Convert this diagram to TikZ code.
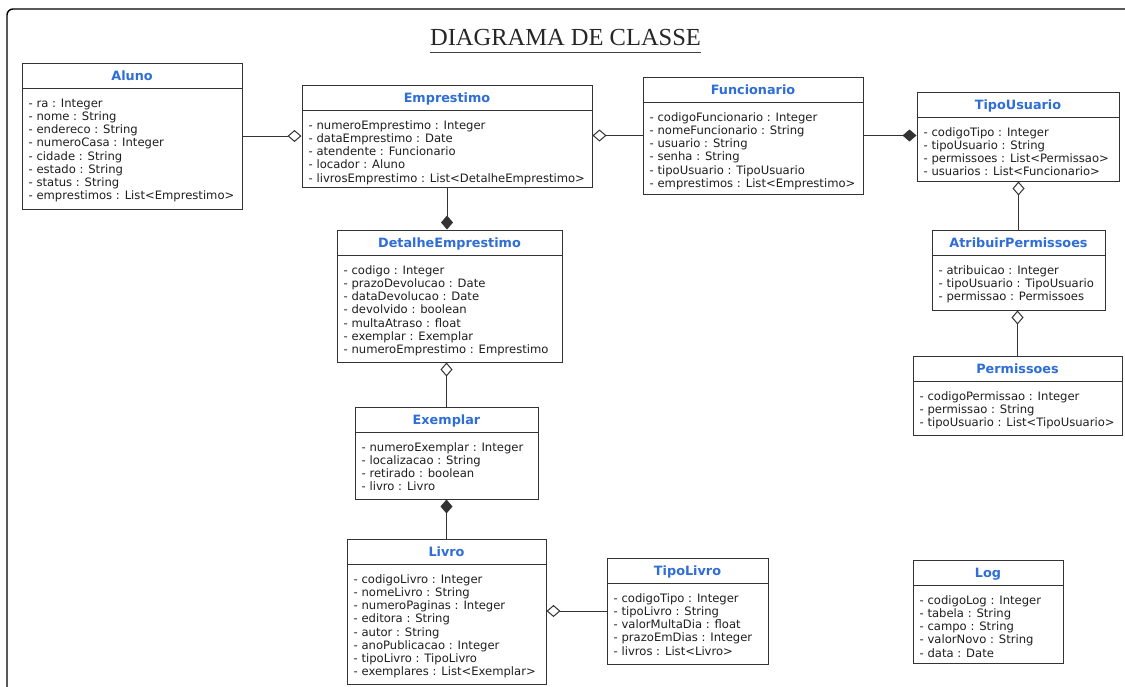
\documentclass[tikz,border=0pt]{standalone}
\usepackage{fontspec}
\newfontfamily\umlfont{DejaVu Sans}
\newfontfamily\headfont{Liberation Serif}
\usetikzlibrary{arrows.meta}
\definecolor{umlblue}{RGB}{46,110,214}
\definecolor{umlline}{RGB}{51,51,51}
\definecolor{umltext}{RGB}{30,30,30}
\tikzset{
 classbox/.style={draw=umlline, line width=1pt, fill=white, inner sep=0pt, rectangle},
 divider/.style={draw=umlline, line width=1pt},
 classtitle/.style={anchor=base, inner sep=0pt, text=umlblue, font=\umlfont\bfseries\fontsize{12.8}{15}\selectfont},
 classattrs/.style={anchor=north west, inner sep=0pt, align=left, text=umltext, font=\umlfont\fontsize{11.6}{13.25}\selectfont},
 conn/.style={draw=umlline, line width=1pt},
 aggr/.style={conn, -{Diamond[open, length=14pt, width=12pt, fill=white]}},
 comp/.style={conn, -{Diamond[length=14pt, width=12pt]}},
 frameline/.style={draw=black, line width=1.4pt, rounded corners=6pt},
}
% #1 name, #2 x, #3 y, #4 width, #5 height, #6 title, #7 attributes
\newcommand\umlclass[7]{%
  \node[classbox, minimum width=#4, minimum height=#5] (#1) at (#2+#4/2, #3+#5/2) {};
  \draw[divider] ([yshift=-25.5pt]#1.north west) -- ([yshift=-25.5pt]#1.north east);
  \node[classtitle] (#1-title) at ([yshift=-18pt]#1.north) {#6};
  \node[classattrs] (#1-attrs) at ([xshift=7pt,yshift=-35.2pt]#1.north west) {\strut#7};
}
\begin{document}
\begin{tikzpicture}[x=1pt, y=-1pt]
\useasboundingbox (0,0) rectangle (1125,686);
\fill[white] (0,0) rectangle (1125,686);
\draw[frameline] (7,720) -- (7,9) -- (1160,9);

\node[inner sep=0pt, anchor=base, font=\headfont\fontsize{24.5}{28}\selectfont, text=black!85] (title) at (565.5,45) {DIAGRAMA DE CLASSE};
\draw[black!75, line width=1.2pt] ([yshift=-7.3pt]title.base west) -- ([yshift=-7.3pt]title.base east);

\umlclass{aluno}{22}{63}{220}{146}{Aluno}{- ra : Integer\\- nome : String\\- endereco : String\\- numeroCasa : Integer\\- cidade : String\\- estado : String\\- status : String\\- emprestimos : List<Emprestimo>}
\umlclass{emprestimo}{302}{85}{290}{102}{Emprestimo}{- numeroEmprestimo : Integer\\- dataEmprestimo : Date\\- atendente : Funcionario\\- locador : Aluno\\- livrosEmprestimo : List<DetalheEmprestimo>}
\umlclass{funcionario}{643}{77}{220}{117}{Funcionario}{- codigoFuncionario : Integer\\- nomeFuncionario : String\\- usuario : String\\- senha : String\\- tipoUsuario : TipoUsuario\\- emprestimos : List<Emprestimo>}
\umlclass{tipousuario}{917}{92}{202}{89}{TipoUsuario}{- codigoTipo : Integer\\- tipoUsuario : String\\- permissoes : List<Permissao>\\- usuarios : List<Funcionario>}
\umlclass{atribuir}{932}{230}{173}{80}{AtribuirPermissoes}{- atribuicao : Integer\\- tipoUsuario : TipoUsuario\\- permissao : Permissoes}
\umlclass{permissoes}{913}{356}{209}{79}{Permissoes}{- codigoPermissao : Integer\\- permissao : String\\- tipoUsuario : List<TipoUsuario>}
\umlclass{detalhe}{337}{230}{225}{132}{DetalheEmprestimo}{- codigo : Integer\\- prazoDevolucao : Date\\- dataDevolucao : Date\\- devolvido : boolean\\- multaAtraso : float\\- exemplar : Exemplar\\- numeroEmprestimo : Emprestimo}
\umlclass{exemplar}{355}{407}{183}{92}{Exemplar}{- numeroExemplar : Integer\\- localizacao : String\\- retirado : boolean\\- livro : Livro}
\umlclass{livro}{347}{539}{199}{145}{Livro}{- codigoLivro : Integer\\- nomeLivro : String\\- numeroPaginas : Integer\\- editora : String\\- autor : String\\- anoPublicacao : Integer\\- tipoLivro : TipoLivro\\- exemplares : List<Exemplar>}
\umlclass{tipolivro}{607}{558}{161}{106}{TipoLivro}{- codigoTipo : Integer\\- tipoLivro : String\\- valorMultaDia : float\\- prazoEmDias : Integer\\- livros : List<Livro>}
\umlclass{log}{913}{560}{150}{103}{Log}{- codigoLog : Integer\\- tabela : String\\- campo : String\\- valorNovo : String\\- data : Date}

% connectors
\draw[aggr] (aluno.east) -- (aluno.east -| emprestimo.west);
\draw[aggr] (funcionario.west) -- (funcionario.west -| emprestimo.east);
\draw[comp] (funcionario.east) -- (funcionario.east -| tipousuario.west);
\draw[aggr] (atribuir.north) -- (atribuir.north |- tipousuario.south);
\draw[aggr] (permissoes.north) -- (permissoes.north |- atribuir.south);
\draw[comp] (emprestimo.south) -- (emprestimo.south |- detalhe.north);
\draw[aggr] (exemplar.north) -- (exemplar.north |- detalhe.south);
\draw[comp] (livro.north) -- (livro.north |- exemplar.south);
\draw[aggr] (tipolivro.west) -- (tipolivro.west -| livro.east);
\end{tikzpicture}
\end{document}
